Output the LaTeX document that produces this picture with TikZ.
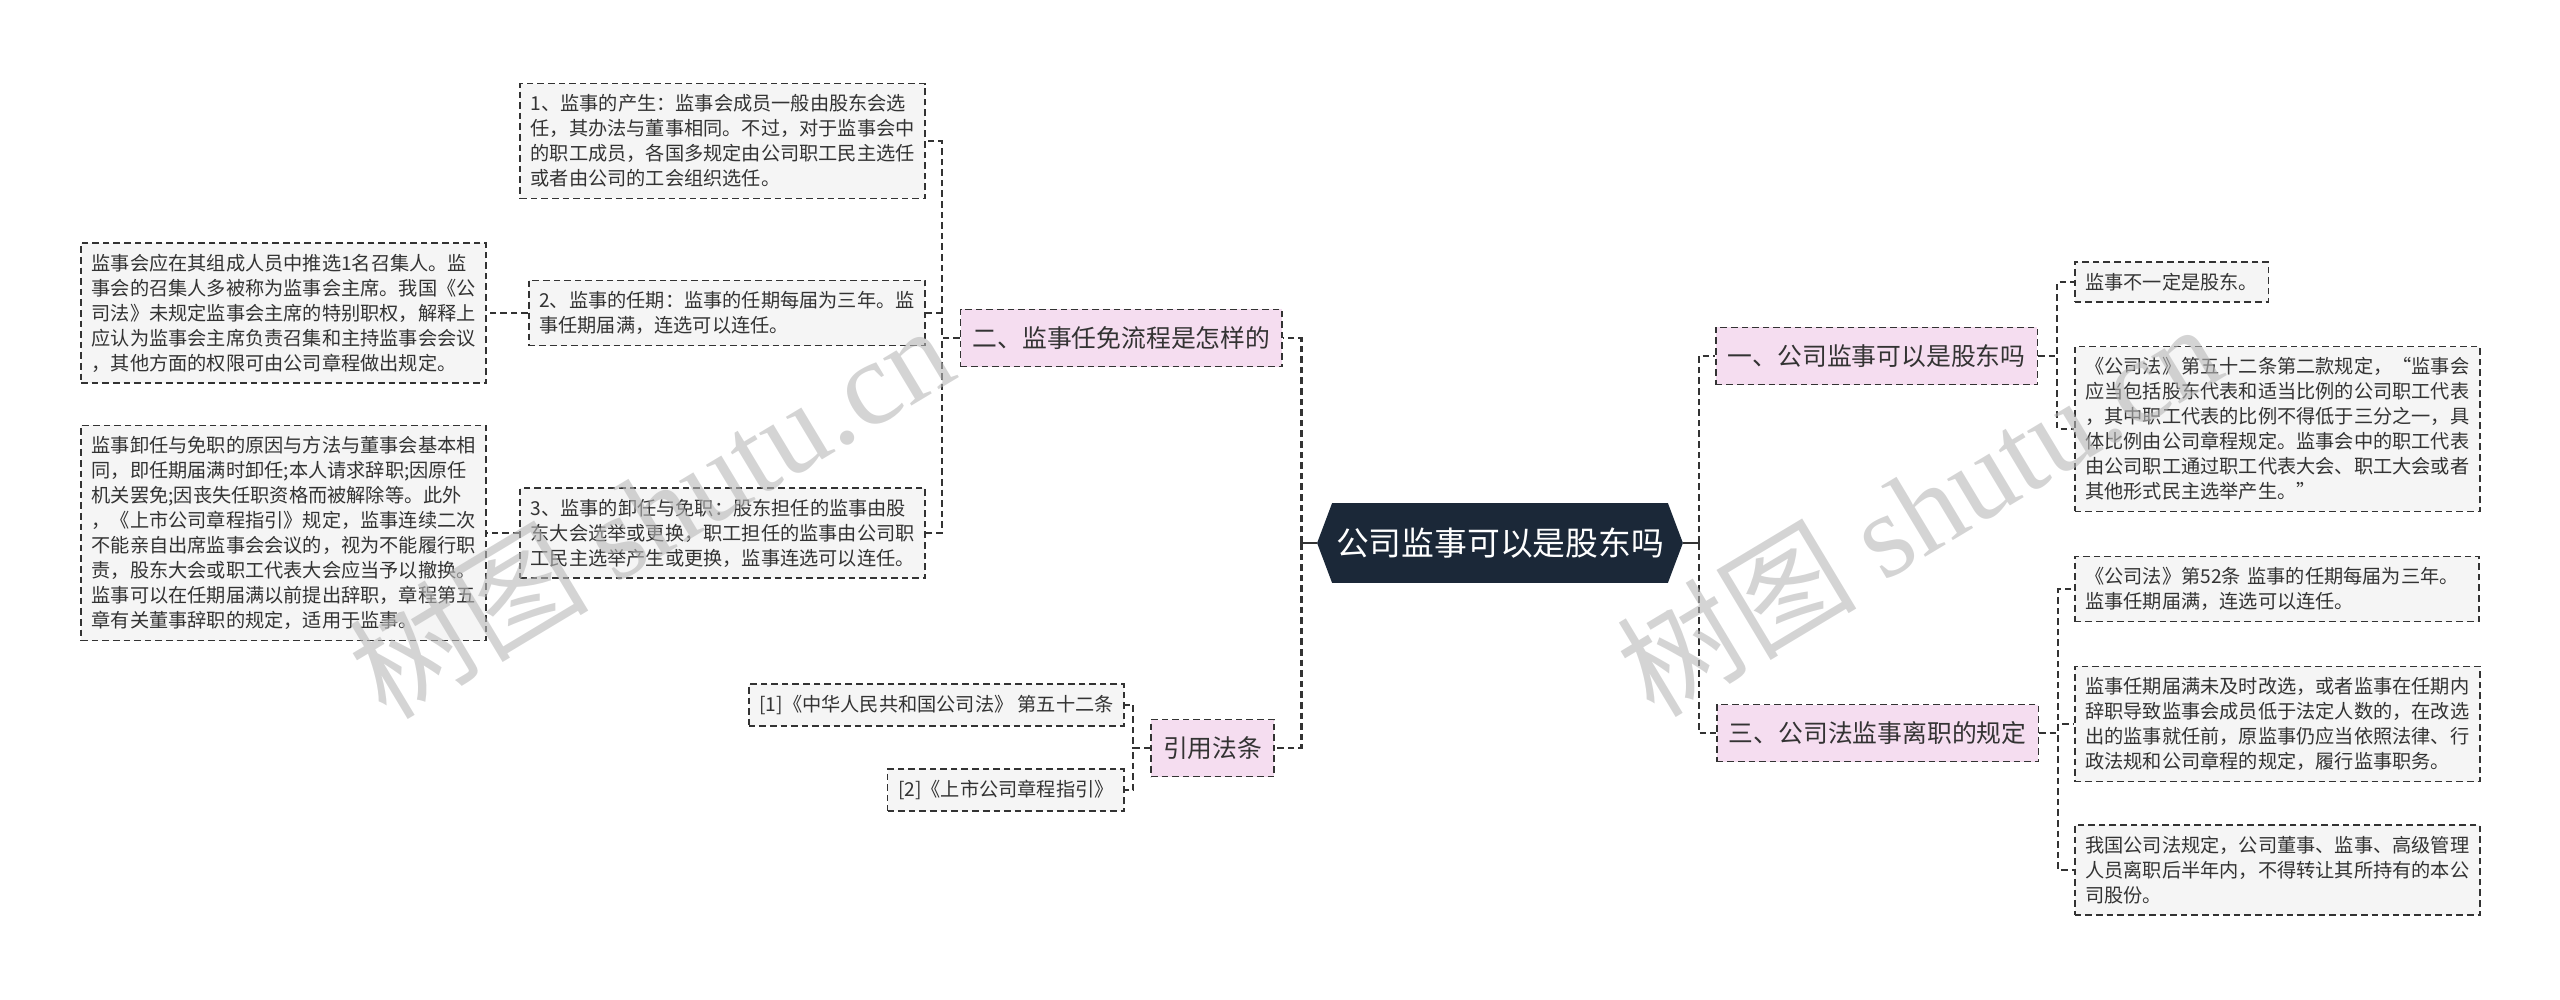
\documentclass[tikz,border=0pt]{standalone}
\usepackage{fontspec}
\setmainfont{Noto Sans CJK SC}
\newfontfamily\wmserif{Liberation Serif}
\usetikzlibrary{backgrounds}
\definecolor{linec}{HTML}{333333}
\definecolor{txtc}{HTML}{333333}
\definecolor{leaffill}{HTML}{F5F5F5}
\definecolor{branchfill}{HTML}{F5DDF0}
\definecolor{centerfill}{HTML}{1B2838}
\definecolor{wmc}{HTML}{B8B8B8}
\begin{document}
\begin{tikzpicture}[x=0.5pt,y=-0.5pt,
  leafbox/.style={draw=linec, line width=0.8pt, dash pattern=on 3.3pt off 2pt, fill=leaffill, text=txtc, align=left, font=\fontsize{9.6pt}{12.5pt}\selectfont, inner xsep=5.25pt, inner ysep=5.5pt},
  branchbox/.style={draw=linec, line width=0.8pt, dash pattern=on 3.3pt off 2pt, fill=branchfill, text=txtc, font=\fontsize{12.4pt}{14pt}\selectfont, inner xsep=6pt, inner ysep=0pt, minimum height=28.5pt},
  centerbox/.style={text=white, font=\fontsize{16.4pt}{18pt}\selectfont, minimum width=182.5pt, minimum height=39.5pt, inner sep=0pt},
  conn/.style={draw=linec, line width=0.8pt, dash pattern=on 3.3pt off 2pt},
  spine/.style={draw=linec, line width=1.4pt, dash pattern=on 3.3pt off 2pt},
  stub/.style={draw=linec, line width=1.4pt},
  wm/.style={text=wmc, opacity=0.6, font=\fontsize{60pt}{60pt}\selectfont, rotate=31, inner sep=0pt}
]
\useasboundingbox (0,0) rectangle (2560,1000);

% center
\node[centerbox] (c) at (1500,543) {公司监事可以是股东吗};
\begin{scope}[on background layer]
\fill[centerfill] ([xshift=7.5pt]c.north west) -- ([xshift=-7.5pt]c.north east) -- (c.east) -- ([xshift=-7.5pt]c.south east) -- ([xshift=7.5pt]c.south west) -- (c.west) -- cycle;
\end{scope}

% branches
\node[branchbox, anchor=east] (b2) at (1283,338) {二、监事任免流程是怎样的};
\node[branchbox, anchor=east] (b4) at (1275,748) {引用法条};
\node[branchbox, anchor=west] (b1) at (1715,356) {一、公司监事可以是股东吗};
\node[branchbox, anchor=west] (b3) at (1716,733) {三、公司法监事离职的规定};

% left leaves
\node[leafbox, anchor=east] (l1) at (926,141) {1、监事的产生：监事会成员一般由股东会选\\任，其办法与董事相同。不过，对于监事会中\\的职工成员，各国多规定由公司职工民主选任\\或者由公司的工会组织选任。};
\node[leafbox, anchor=east] (l2) at (926,313) {2、监事的任期：监事的任期每届为三年。监\\事任期届满，连选可以连任。};
\node[leafbox, anchor=east] (l3) at (926,533) {3、监事的卸任与免职：股东担任的监事由股\\东大会选举或更换，职工担任的监事由公司职\\工民主选举产生或更换，监事连选可以连任。};
\node[leafbox, anchor=east] (l2a) at (487,313) {监事会应在其组成人员中推选1名召集人。监\\事会的召集人多被称为监事会主席。我国《公\\司法》未规定监事会主席的特别职权，解释上\\应认为监事会主席负责召集和主持监事会会议\\，其他方面的权限可由公司章程做出规定。};
\node[leafbox, anchor=east] (l3a) at (487,533) {监事卸任与免职的原因与方法与董事会基本相\\同，即任期届满时卸任;本人请求辞职;因原任\\机关罢免;因丧失任职资格而被解除等。此外\\，《上市公司章程指引》规定，监事连续二次\\不能亲自出席监事会会议的，视为不能履行职\\责，股东大会或职工代表大会应当予以撤换。\\监事可以在任期届满以前提出辞职，章程第五\\章有关董事辞职的规定，适用于监事。};
\node[leafbox, anchor=east] (f1) at (1125,705) {[1]《中华人民共和国公司法》 第五十二条};
\node[leafbox, anchor=east] (f2) at (1125,790) {[2]《上市公司章程指引》};

% right leaves
\node[leafbox, anchor=west] (r1a) at (2074,282) {监事不一定是股东。};
\node[leafbox, anchor=west] (r1b) at (2074,429) {《公司法》第五十二条第二款规定，“监事会\\应当包括股东代表和适当比例的公司职工代表\\，其中职工代表的比例不得低于三分之一，具\\体比例由公司章程规定。监事会中的职工代表\\由公司职工通过职工代表大会、职工大会或者\\其他形式民主选举产生。”};
\node[leafbox, anchor=west, text width=191.5pt] (r3a) at (2074,589) {《公司法》第52条 监事的任期每届为三年。\\监事任期届满，连选可以连任。};
\node[leafbox, anchor=west] (r3b) at (2074,724) {监事任期届满未及时改选，或者监事在任期内\\辞职导致监事会成员低于法定人数的，在改选\\出的监事就任前，原监事仍应当依照法律、行\\政法规和公司章程的规定，履行监事职务。};
\node[leafbox, anchor=west] (r3c) at (2074,870) {我国公司法规定，公司董事、监事、高级管理\\人员离职后半年内，不得转让其所持有的本公\\司股份。};

% connectors from center
\draw[stub] (c.west) -- ++(-16,0) coordinate (lj);
\draw[stub] (c.east) -- ++(16,0) coordinate (rj);
\draw[spine] (lj) |- (b2.east);
\draw[spine] (lj) |- (b4.east);
\draw[spine] (rj) |- (b1.west);
\draw[spine] (rj) |- (b3.west);

% branch to leaves
\draw[conn] (b2.west) -- ++(-18,0) |- (l1.east);
\draw[conn] (b2.west) -- ++(-18,0) |- (l2.east);
\draw[conn] (b2.west) -- ++(-18,0) |- (l3.east);
\draw[conn] (l2.west) -- (l2a.east);
\draw[conn] (l3.west) -- (l3a.east);
\draw[conn] (b4.west) -- ++(-17,0) |- (f1.east);
\draw[conn] (b4.west) -- ++(-17,0) |- (f2.east);
\draw[conn] (b1.east) -- ++(19,0) |- (r1a.west);
\draw[conn] (b1.east) -- ++(19,0) |- (r1b.west);
\draw[conn] (b3.east) -- ++(19,0) |- (r3a.west);
\draw[conn] (b3.east) -- ++(19,0) |- (r3b.west);
\draw[conn] (b3.east) -- ++(19,0) |- (r3c.west);

% watermarks
\node[wm] (wm1) at (650,510) {树图 {\wmserif shutu.cn}};
\node[wm] (wm2) at (1918,508) {树图 {\wmserif shutu.cn}};
\end{tikzpicture}
\end{document}
